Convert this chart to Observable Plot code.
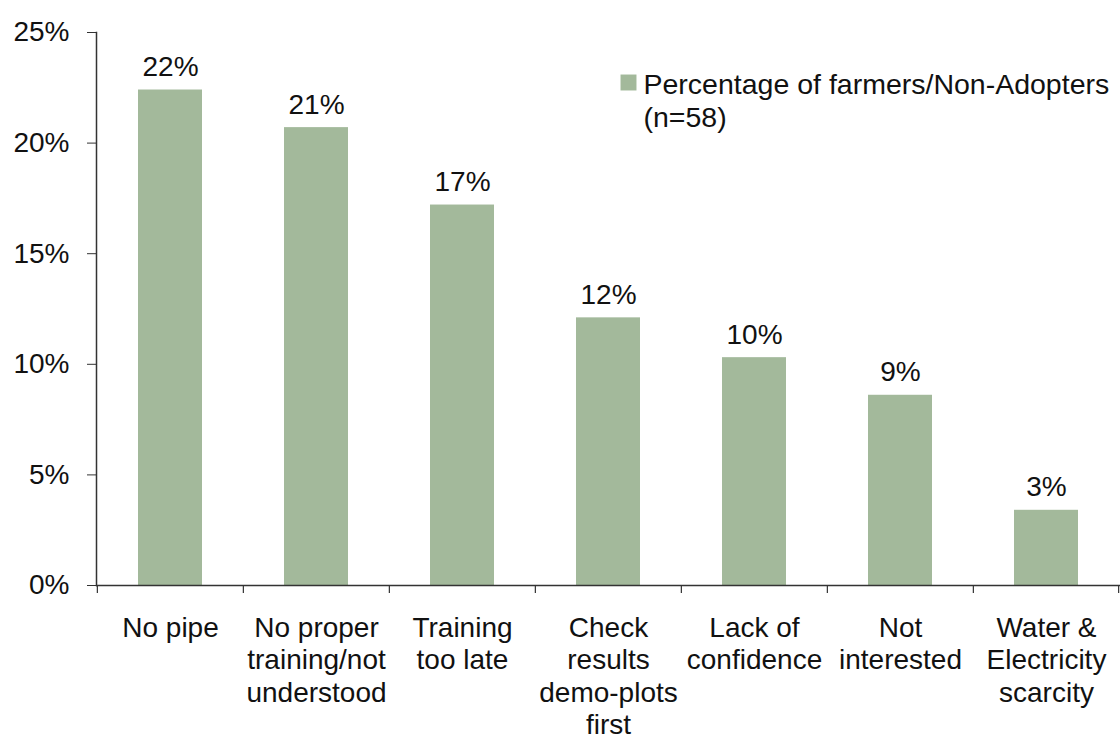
<!DOCTYPE html>
<html>
<head>
<meta charset="utf-8">
<script src="https://cdn.jsdelivr.net/npm/d3@7"></script>
<script src="https://cdn.jsdelivr.net/npm/@observablehq/plot@0.6"></script>
<style>
  html, body { margin: 0; padding: 0; background: #ffffff; }
  #chart svg { display: block; }
</style>
</head>
<body>
<div id="chart"></div>
<script>
const categories = [
  "No pipe",
  "No proper\ntraining/not\nunderstood",
  "Training\ntoo late",
  "Check\nresults\ndemo-plots\nfirst",
  "Lack of\nconfidence",
  "Not\ninterested",
  "Water &\nElectricity\nscarcity"
];
const values = [22.4, 20.7, 17.2, 12.1, 10.3, 8.6, 3.4];
const valueLabels = ["22%", "21%", "17%", "12%", "10%", "9%", "3%"];
const yTicks = [0, 5, 10, 15, 20, 25];
const legendLabel = "Percentage of farmers/Non-Adopters\n(n=58)";

const data = categories.map((c, i) => ({category: c, value: values[i], label: valueLabels[i]}));

const W = 1120, H = 740;
const mL = 96, mR = 0, mT = 32, mB = 155;
const step = (W - mL - mR) / categories.length;
const barColor = "#a3b99b";
const font = "Liberation Sans, Arial, sans-serif";
const fs = 28;

const chart = Plot.plot({
  width: W,
  height: H,
  marginLeft: mL,
  marginRight: mR,
  marginTop: mT,
  marginBottom: mB,
  style: {fontFamily: font, color: "#111", background: "#fff"},
  x: {domain: categories, paddingInner: 0.56, paddingOuter: 0.28, label: null},
  y: {domain: [0, 25], label: null},
  marks: [
    Plot.barY(data, {x: "category", y: "value", fill: barColor}),
    Plot.text(data, {x: "category", y: "value", text: "label", lineAnchor: "bottom", dy: -14, fontSize: fs, fill: "#111"}),
    // y axis
    Plot.axisY({ticks: yTicks, tickFormat: d => d + "%", tickSize: 9, tickPadding: 18, fontSize: fs, stroke: "#333", fill: "#111"}),
    Plot.frame({anchor: "left", stroke: "#333", strokeWidth: 1.5}),
    // x axis line and boundary ticks below it
    Plot.ruleY([0], {stroke: "#333", strokeWidth: 1.5}),
    Plot.ruleX(categories, {x: d => d, y1: 0, y2: 0, insetBottom: -8, dx: -step / 2, stroke: "#333", strokeWidth: 1.2}),
    Plot.ruleX(categories.slice(-1), {x: d => d, y1: 0, y2: 0, insetBottom: -8, dx: step / 2 - 1, stroke: "#333", strokeWidth: 1.2}),
    Plot.axisX({tickSize: 0, tickPadding: 28, fontSize: fs, lineHeight: 1.16, fill: "#111"}),
    // legend
    Plot.dot([0], {frameAnchor: "top-left", dx: 532, dy: 50, symbol: "square", r: 9, fill: barColor}),
    Plot.text([legendLabel], {frameAnchor: "top-left", dx: 547, dy: 39, textAnchor: "start", lineAnchor: "top", lineHeight: 1.13, fontSize: 28.5, fill: "#111"})
  ]
});

document.getElementById("chart").appendChild(chart);
</script>
</body>
</html>
